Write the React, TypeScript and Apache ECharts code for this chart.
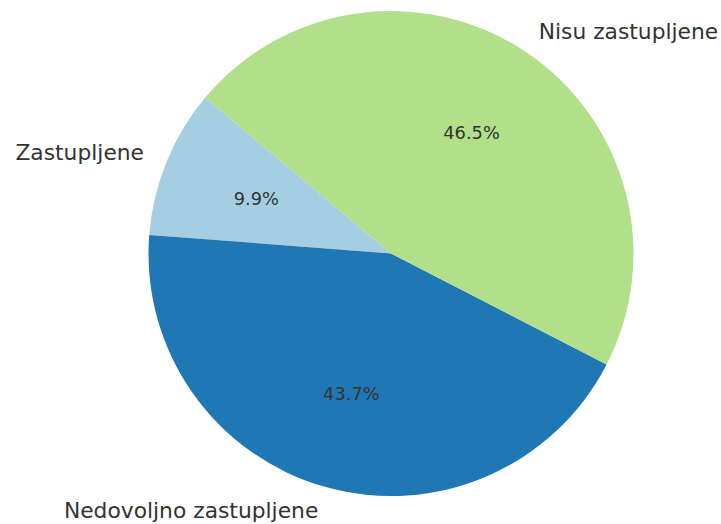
import React, { useEffect, useRef } from "react";
import * as echarts from "echarts";

const categories = ["Zastupljene", "Nedovoljno zastupljene", "Nisu zastupljene"];
const values = [9.9, 43.7, 46.5];
const colors = ["#a6cee3", "#1f78b4", "#b2df8a"];

export default function App() {
  const ref = useRef<HTMLDivElement>(null);
  useEffect(() => {
    if (!ref.current) return;
    const chart = echarts.init(ref.current, undefined, { renderer: "svg" });
    const r = 242.5;
    const center = [391, 253.5];
    const data = categories.map((name, i) => ({
      name,
      value: values[i],
      itemStyle: { color: colors[i] },
    }));
    chart.setOption({
      animation: false,
      series: [
        {
          type: "pie",
          center,
          radius: [0, r],
          startAngle: 140,
          clockwise: false,
          avoidLabelOverlap: false,
          silent: true,
          data,
          itemStyle: { borderWidth: 0 },
          emphasis: { disabled: true },
          label: {
            show: true,
            position: "outside",
            formatter: "{b}",
            fontFamily: "DejaVu Sans",
            fontSize: 21.8,
            color: "#333333",
            distanceToLabelLine: 0,
          },
          labelLine: { show: false, length: r * 0.1, length2: 0 },
        },
        {
          type: "pie",
          center,
          radius: [0, 2 * (0.6 * r - 3)],
          startAngle: 140,
          clockwise: false,
          avoidLabelOverlap: false,
          silent: true,
          data: data.map((d) => ({ ...d, itemStyle: { color: "rgba(0,0,0,0)" } })),
          itemStyle: { borderWidth: 0 },
          emphasis: { disabled: true },
          label: {
            show: true,
            position: "inside",
            formatter: (p: any) => p.value.toFixed(1) + "%",
            fontFamily: "DejaVu Sans",
            fontSize: 17.8,
            color: "#333333",
          },
          labelLine: { show: false },
        },
      ],
    });
    return () => chart.dispose();
  }, []);
  return (
    <div
      ref={ref}
      style={{ position: "absolute", left: 0, top: 0, width: 721, height: 524 }}
    />
  );
}
